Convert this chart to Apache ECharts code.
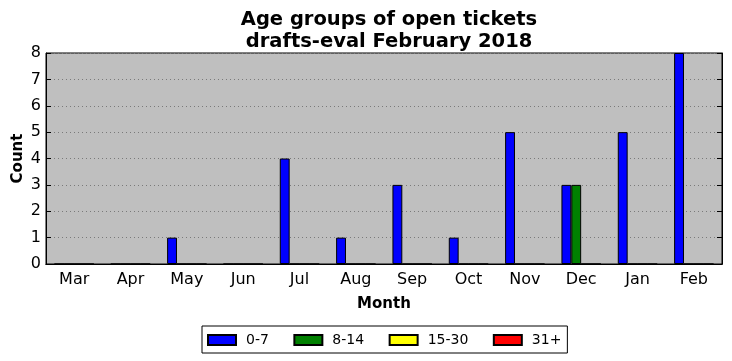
<!DOCTYPE html>
<html><head><meta charset="utf-8">
<script src="https://cdn.jsdelivr.net/npm/echarts@6/dist/echarts.min.js"></script>
<style>html,body{margin:0;padding:0;background:#fff}#c{width:732px;height:361px}</style>
</head><body><div id="c"></div>
<script>
const months = ['Mar','Apr','May','Jun','Jul','Aug','Sep','Oct','Nov','Dec','Jan','Feb'];
const age0to7 = [0,0,1,0,4,1,3,1,5,3,5,8];
const age8to14 = [0,0,0,0,0,0,0,0,0,3,0,0];
const age15to30 = [0,0,0,0,0,0,0,0,0,0,0,0];
const age31plus = [0,0,0,0,0,0,0,0,0,0,0,0];
const yTicks = [0,1,2,3,4,5,6,7,8];

const font = 'DejaVu Sans';
const chart = echarts.init(document.getElementById('c'));
function mk(name, data, color){
  return {name, type:'bar', data, barGap:'0%', barCategoryGap:'30%',
    itemStyle:{color, borderColor:'#000', borderWidth:1}, emphasis:{disabled:true}};
}
chart.setOption({
  animation:false,
  textStyle:{fontFamily:font},
  title:{text:'Age groups of open tickets\ndrafts-eval February 2018', left:384, top:4, textAlign:'center',
    textStyle:{fontFamily:font, fontSize:19.5, fontWeight:'bold', color:'#000', lineHeight:22}},
  legend:{left:202, top:326, height:25, padding:[7,6,6,5], itemGap:24.5, itemWidth:28, itemHeight:10,
    borderColor:'#000', borderWidth:1, backgroundColor:'#fff', icon:'rect',
    textStyle:{fontFamily:font, fontSize:14, color:'#000', padding:[0,0,0,5]},
    data:['0-7','8-14','15-30','31+']},
  grid:{left:46, right:10, top:53, bottom:97, outerBoundsMode:'none', containLabel:false, show:true, backgroundColor:'#bfbfbf', borderColor:'#000', borderWidth:1},
  xAxis:[{type:'category', data:months, name:'Month', nameLocation:'middle', nameGap:33, nameMoveOverlap:false,
    nameTextStyle:{fontFamily:font, fontSize:15, fontWeight:'bold', color:'#000'},
    axisLine:{lineStyle:{color:'#000'}}, axisTick:{inside:true, alignWithLabel:true, length:5, lineStyle:{color:'#000'}},
    axisLabel:{fontFamily:font, fontSize:16, color:'#000', margin:8}, splitLine:{show:false}},
   {type:'category', data:months, position:'top', axisLine:{lineStyle:{color:'#000'}},
    axisTick:{inside:true, alignWithLabel:true, length:5, lineStyle:{color:'#000'}}, axisLabel:{show:false}}],
  yAxis:[{type:'value', min:yTicks[0], max:yTicks[yTicks.length-1], interval:1, name:'Count', nameLocation:'middle', nameGap:20, nameMoveOverlap:false,
    nameTextStyle:{fontFamily:font, fontSize:15, fontWeight:'bold', color:'#000'},
    axisLine:{show:true, lineStyle:{color:'#000'}}, axisTick:{show:true, inside:true, length:5, lineStyle:{color:'#000'}},
    axisLabel:{fontFamily:font, fontSize:16, color:'#000', margin:5},
    splitLine:{show:true, lineStyle:{color:'#7a7a7a', type:[1,3], width:1}}},
   {type:'value', min:yTicks[0], max:yTicks[yTicks.length-1], interval:1, position:'right',
    axisLine:{show:true, lineStyle:{color:'#000'}}, axisTick:{show:true, inside:true, length:5, lineStyle:{color:'#000'}},
    axisLabel:{show:false}, splitLine:{show:false}}],
  series:[mk('0-7',age0to7,'#0000ff'), mk('8-14',age8to14,'#008000'), mk('15-30',age15to30,'#ffff00'), mk('31+',age31plus,'#ff0000')]
});
</script></body></html>
